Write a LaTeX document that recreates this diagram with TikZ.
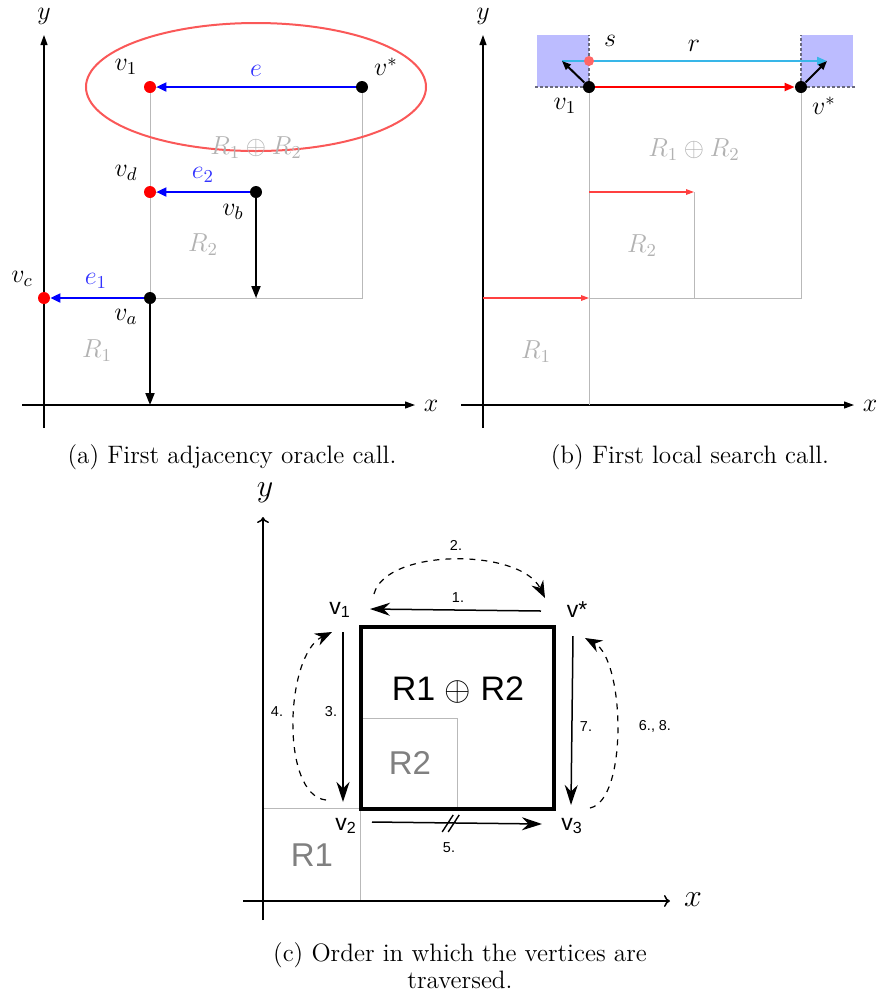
\RequirePackage{fix-cm}
\documentclass[tikz,border=0pt]{standalone}
\usepackage{amsmath,amssymb}
\usepackage{fontspec}
\usepackage{xcolor}
\usepackage{tikz}
\usetikzlibrary{arrows.meta, positioning, calc}
\newfontfamily\arialfont{Liberation Sans}

\definecolor{skyline}{RGB}{56,182,232}
\definecolor{boxblue}{RGB}{188,188,255}
\definecolor{ovalred}{RGB}{250,88,88}
\definecolor{fencegray}{RGB}{105,105,125}

\tikzset{
	axisline/.style={line width=0.6pt, -{Triangle[length=5pt,width=3.5pt]}},
	cax/.style={line width=0.75pt, -{To[length=3pt,width=6pt]}},
	rim/.style={gray!55, line width=0.5pt},
	fence/.style={fencegray, line width=0.7pt, dash pattern=on 1.5pt off 1pt},
	vert/.style={circle, fill=black, inner sep=0pt, minimum size=6pt},
	hit/.style={vert, fill=red},
	sdot/.style={circle, fill=red!60, inner sep=0pt, minimum size=5pt},
	oracle/.style={blue, line width=1pt, -{Triangle[length=5pt,width=4.5pt]}},
	drop/.style={line width=0.9pt, -{Triangle[length=6pt,width=4.5pt]}},
	nudge/.style={line width=1pt, -{Triangle[length=4.5pt,width=3.5pt]}},
	probe/.style={red, line width=1pt, -{Triangle[length=5pt,width=4pt]}},
	faint probe/.style={red!75, line width=0.6pt, -{Triangle[length=4pt,width=2.8pt]}},
	sky/.style={skyline, line width=1pt, -{Triangle[length=5pt,width=4pt]}},
	region/.style={gray!60},
	caption/.style={font=\fontsize{12.6}{13.5}\selectfont, align=center},
	trav/.style={line width=0.75pt, -{Stealth[length=10pt,width=6.5pt]}},
	dtrav/.style={line width=0.6pt, dashed, -{Stealth[length=8.5pt,width=6.5pt]}},
	vlab/.style={font=\arialfont\fontsize{11.5}{13}\selectfont, inner sep=0pt},
	numlab/.style={font=\arialfont\fontsize{7.2}{8}\selectfont, inner sep=0pt},
	creg/.style={font=\arialfont\fontsize{16.5}{18}\selectfont, text=gray},
}

\begin{document}
\begin{tikzpicture}[x=0.5pt, y=-0.5pt, font=\fontsize{13}{15}\selectfont]
	\useasboundingbox (0,0) rectangle (878,993);
	% (a)
	\begin{scope}
		\draw[axisline] (22,405) -- (415,405);
		\draw[axisline] (44,428) -- (44,35);
		\node (xa) at (431,406) {$x$};
		\node (ya) at (44,16) {$y$};
		\draw[rim] (150,87) rectangle (362,298);
		\draw[rim] (150,192) -| (256,298);
		\draw[ovalred, line width=1pt] (256,87) ellipse [x radius=170, y radius=64];
		\node[region] at (256,148) {$R_1 \oplus R_2$};
		\node[region] at (203,245) {$R_2$};
		\node[region] at (97,351) {$R_1$};
		\node[hit] (v1) at (150,87) {};
		\node[vert] (vs) at (362,87) {};
		\node[hit] (vd) at (150,192) {};
		\node[vert] (vb) at (256,192) {};
		\node[hit] (vc) at (44,298) {};
		\node[vert] (va) at (150,298) {};
		\coordinate (vbfoot) at (256,298);
		\coordinate (vafoot) at (150,405);
		\draw[oracle] (vs) -- (v1);
		\draw[oracle] (vb) -- (vd);
		\draw[oracle] (va) -- (vc);
		\draw[drop] (vb) -- (vbfoot);
		\draw[drop] (va) -- (vafoot);
		\node[text=blue!80] at (256,71) {$e$};
		\node[text=blue!80] at (203,175) {$e_2$};
		\node[text=blue!80] at (96,281) {$e_1$};
		\node at (126,67) {$v_1$};
		\node at (386,67) {$v^*$};
		\node at (126,173) {$v_d$};
		\node at (233,212) {$v_b$};
		\node at (22,279) {$v_c$};
		\node at (126,317) {$v_a$};
	\end{scope}
	\node[caption] (capa) at (232,457) {(a) First adjacency oracle call.};
	% (b)
	\begin{scope}[shift={(439,0)}]
		\fill[boxblue] (98,35) rectangle (150,87);
		\fill[boxblue] (362,35) rectangle (414,87);
		\draw[fence] (96,87) -- (150,87) -- (150,35);
		\draw[fence] (416,87) -- (362,87) -- (362,35);
		\draw[axisline] (22,405) -- (415,405);
		\draw[axisline] (44,428) -- (44,35);
		\node (xb) at (431,406) {$x$};
		\node (yb) at (44,16) {$y$};
		\draw[rim] (150,87) -- (150,405);
		\draw[rim] (150,298) -| (362,87);
		\draw[rim] (150,298) -| (255,192);
		\node[region] at (255,150) {$R_1 \oplus R_2$};
		\node[region] at (203,246) {$R_2$};
		\node[region] at (97,352) {$R_1$};
		\node[vert] (w1) at (150,87) {};
		\node[vert] (ws) at (362,87) {};
		\coordinate (rl) at (123,61);
		\coordinate (rr) at (388,61);
		\coordinate (q1) at (44,298);
		\coordinate (q2) at (150,298);
		\coordinate (q3) at (150,192);
		\coordinate (q4) at (255,192);
		\draw[sky] (rl) -- (rr);
		\node[sdot] (sp) at (150,61) {};
		\draw[nudge] (w1) -- (rl);
		\draw[nudge] (ws) -- (rr);
		\draw[probe] (w1) -- (ws);
		\draw[faint probe] (q1) -- (q2);
		\draw[faint probe] (q3) -- (q4);
		\node at (171,41) {$s$};
		\node at (255,46) {$r$};
		\node at (126,106) {$v_1$};
		\node at (385,106) {$v^*$};
	\end{scope}
	\node[caption] (capb) at (690,457) {(b) First local search call.};
	% (c)
	\draw[rim] (263,808) rectangle (360,901);
	\draw[rim] (360,718) rectangle (457,808);
	\draw[cax] (263,920) -- (263,517);
	\draw[cax] (243,901) -- (670,901);
	\node[font=\fontsize{16}{18}\selectfont] (yc) at (265,493) {$y$};
	\node[font=\fontsize{16}{18}\selectfont] (xc) at (693,900) {$x$};
	\draw[line width=2.4pt] (361,627) rectangle (554,809);
	\node[creg] at (312,855) {R1};
	\node[creg] at (410,763) {R2};
	\node[font=\arialfont\fontsize{17}{20}\selectfont] at (458,690) {R1 $\oplus$ R2};
	\node[vlab] (c1) at (340,610) {v\textsubscript{1}};
	\node[vlab] (cs) at (577,610) {v*};
	\node[vlab] (c2) at (346,826) {v\textsubscript{2}};
	\node[vlab] (c3) at (572,826) {v\textsubscript{3}};
	\draw[trav] ($(cs)+(-36,1)$) -- ($(c1)+(30,-1)$);
	\draw[trav] ($(c1)+(3,22)$) -- ($(c2)+(-3,-24)$);
	\draw[trav] ($(c2)+(26,-4)$) -- coordinate[pos=0.46] (m5) ($(c3)+(-30,-2)$);
	\draw[trav] ($(cs)+(-4,26)$) -- ($(c3)+(-1,-21)$);
	\draw[line width=0.7pt] ($(m5)+(-8,9)$) -- ($(m5)+(3,-8)$);
	\draw[line width=0.7pt] ($(m5)+(-2,9)$) -- ($(m5)+(9,-8)$);
	\draw[dtrav] ($(c1)+(34,-16)$) .. controls +(12,-46) and +(-25,-50) .. ($(cs)+(-32,-12)$);
	\draw[dtrav] ($(c2)+(-20,-26)$) .. controls +(-46,-5) and +(-47,23) .. ($(c1)+(-8,22)$);
	\draw[dtrav] ($(c3)+(18,-18)$) .. controls +(38,-8) and +(40,22) .. ($(cs)+(8,28)$);
	\node[numlab] at (458,598) {1.};
	\node[numlab] at (456,545) {2.};
	\node[numlab] at (331,712) {3.};
	\node[numlab] at (277,712) {4.};
	\node[numlab] at (449,848) {5.};
	\node[numlab] at (655,726) {6., 8.};
	\node[numlab] at (586,727) {7.};
	\node[caption] (capc) at (460,966) {(c) Order in which the vertices are\\traversed.};
\end{tikzpicture}
\end{document}
